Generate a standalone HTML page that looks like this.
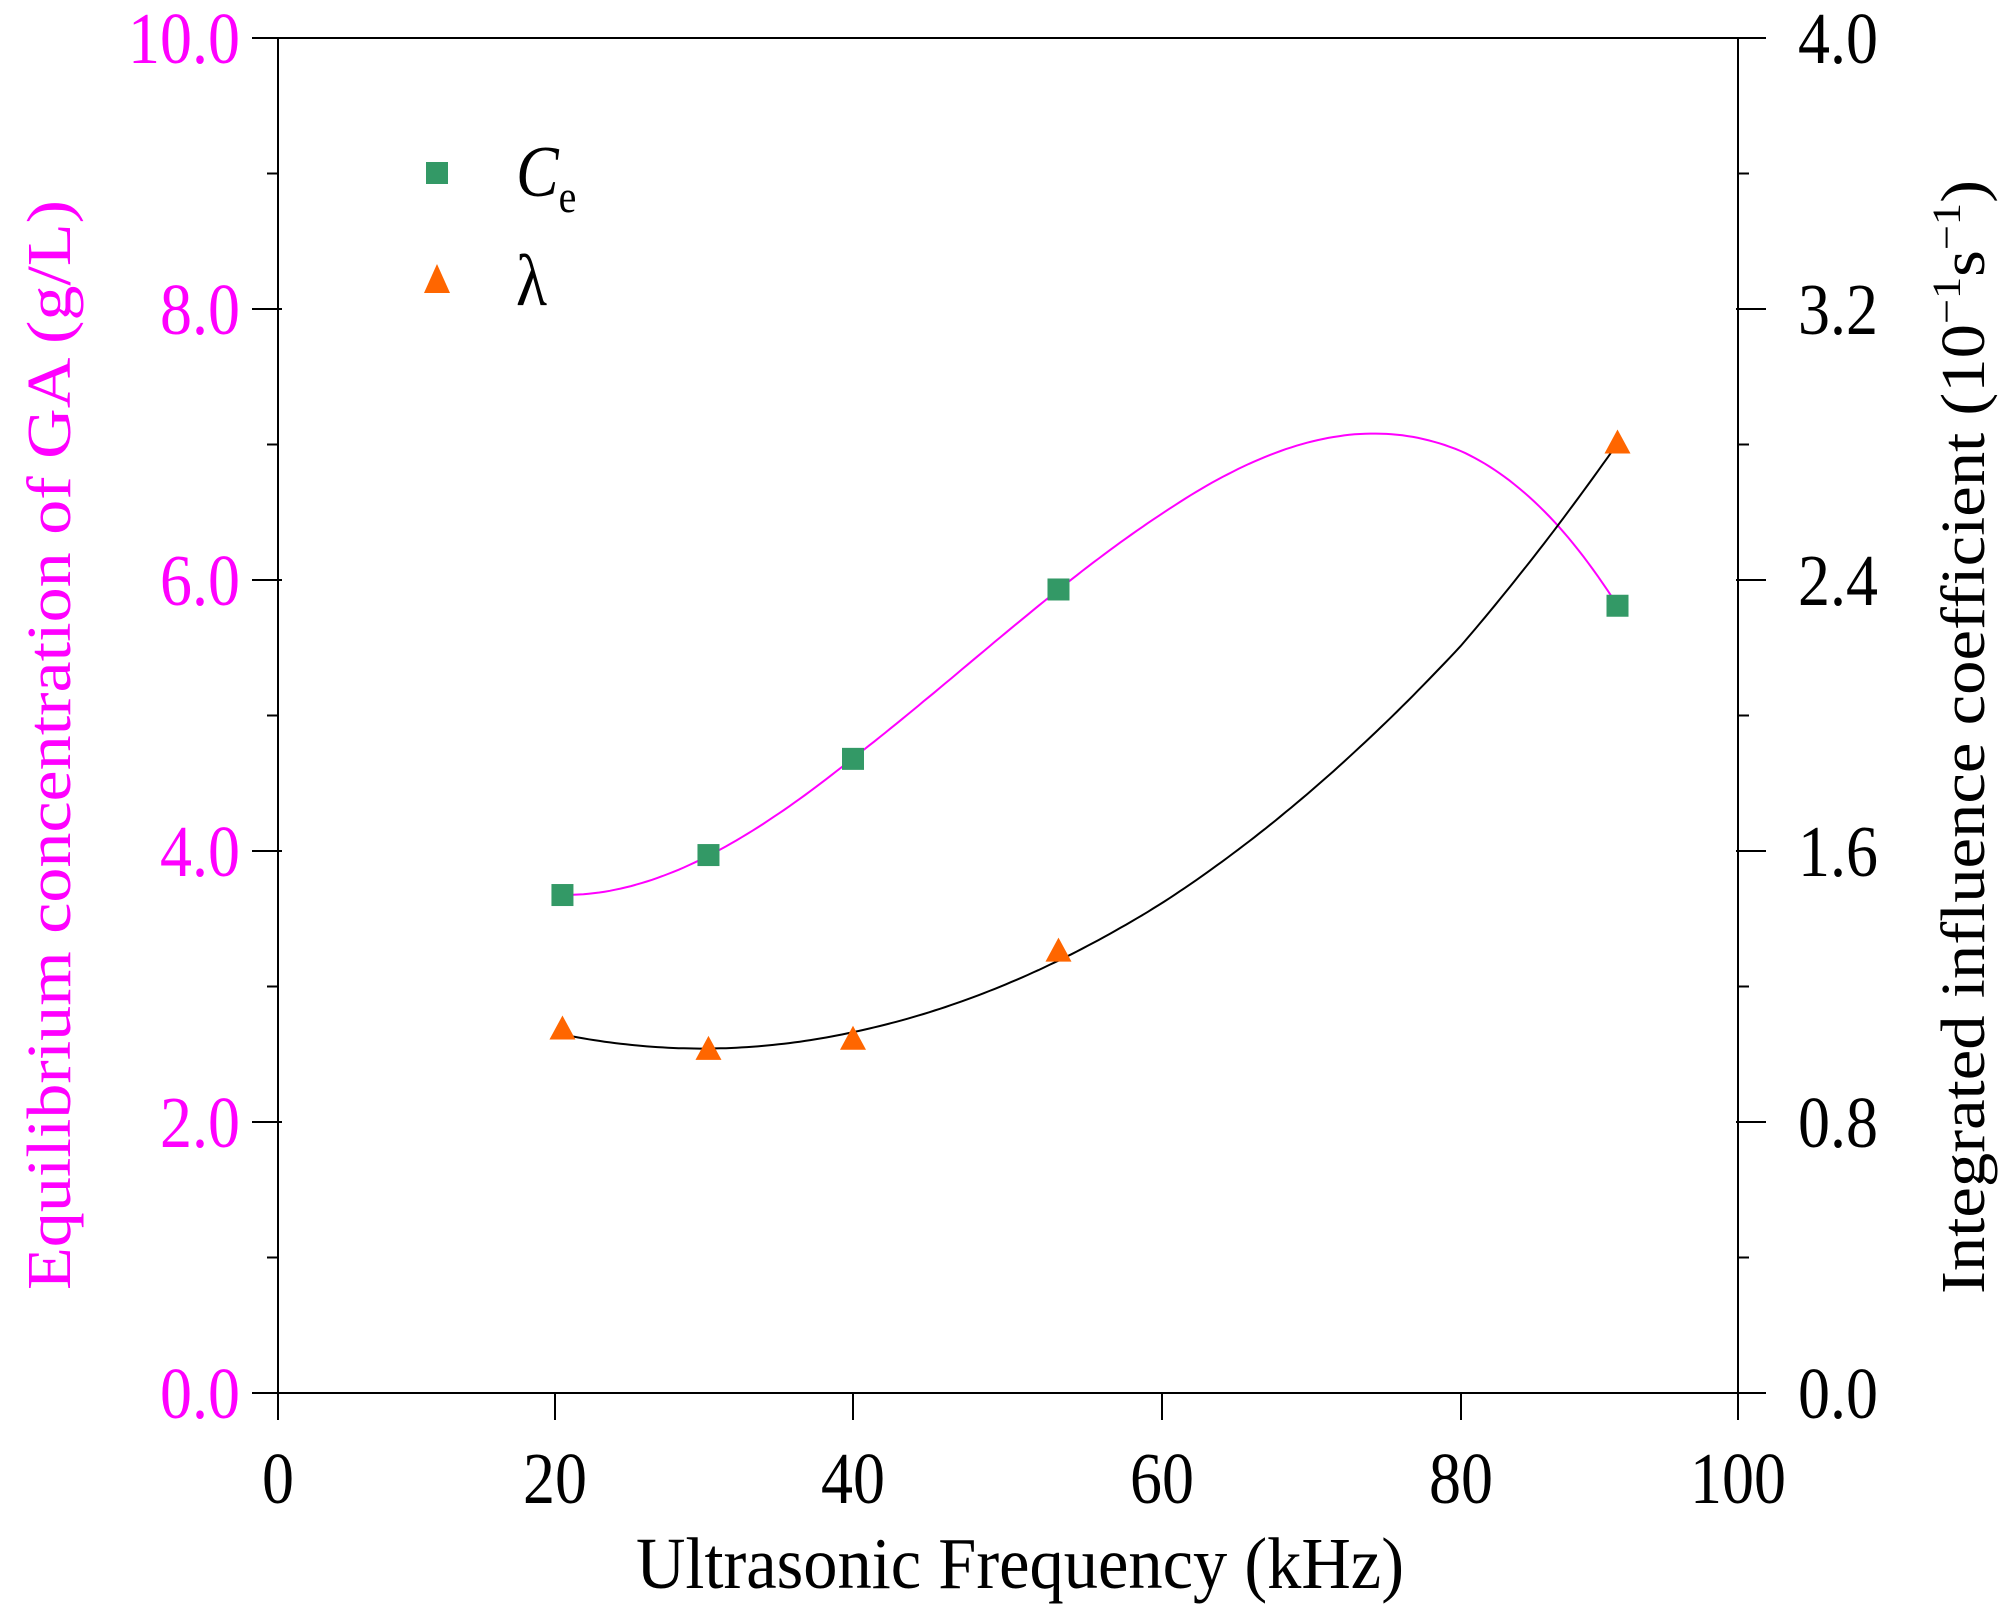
<!DOCTYPE html>
<html><head><meta charset="utf-8"><style>
html,body{margin:0;padding:0;background:#fff;}
svg{display:block;}
text{font-family:"Liberation Serif",serif;}
</style></head><body>
<svg id="chart" width="2012" height="1611" viewBox="0 0 2012 1611" xmlns="http://www.w3.org/2000/svg">
<g id="axes"></g>
<g id="curves"></g>
<g id="marks"></g>
<g id="legend">
  <rect x="426" y="162" width="22" height="22" fill="#339966"/>
  <text x="516" y="196" font-size="64" font-style="italic" transform="translate(516,196) scale(1,1.15) translate(-516,-196)">C<tspan font-size="40" font-style="normal" dy="14">e</tspan></text>
  <polygon points="437,264 424,293 450,293" fill="#ff6600"/>
  <text x="516" y="305" font-size="64" transform="translate(516,305) scale(1,1.15) translate(-516,-305)">λ</text>
</g>
<text x="1020" y="1588" font-size="64" text-anchor="middle" textLength="768" lengthAdjust="spacingAndGlyphs" transform="translate(1020,1588) scale(1,1.15) translate(-1020,-1588)">Ultrasonic Frequency (kHz)</text>
<text x="0" y="0" font-size="62" fill="#ff00ff" text-anchor="middle" textLength="1090" lengthAdjust="spacingAndGlyphs" transform="translate(70,745) rotate(-90)">Equilibrium concentration of  GA (g/L)</text>
<text x="0" y="0" font-size="62" text-anchor="middle" textLength="1114" lengthAdjust="spacingAndGlyphs" transform="translate(1984,737) rotate(-90)">Integrated influence coefficient (10<tspan font-size="40" dy="-24">−1</tspan><tspan dy="24">s</tspan><tspan font-size="40" dy="-24">−1</tspan><tspan dy="24">)</tspan></text>
</svg>
<script>
const xTicks=[0,20,40,60,80,100];
const xTickLabels=["0","20","40","60","80","100"];
const leftTicks=[0,2,4,6,8,10];
const leftTickLabels=["0.0","2.0","4.0","6.0","8.0","10.0"];
const rightTicks=[0,0.8,1.6,2.4,3.2,4.0];
const rightTickLabels=["0.0","0.8","1.6","2.4","3.2","4.0"];
const freq=[20.5,30.3,40,53.3,91.3];
const ceValues=[3.675,3.97,4.68,5.93,5.81];
const lambdaValues=[1.07,1.01,1.04,1.30,2.80];

const NS="http://www.w3.org/2000/svg";
const xPix=[278,555,853,1162,1461,1738];
function xs(v){let i=Math.min(4,Math.max(0,Math.floor(v/20)));return xPix[i]+(v-i*20)/20*(xPix[i+1]-xPix[i]);}
const Y0=1393,Y1=38;
function yl(v){return Y0-(v/10)*(Y0-Y1);}
function yr(v){return Y0-(v/4)*(Y0-Y1);}
function mk(tag,attrs,parent){const e=document.createElementNS(NS,tag);for(const k in attrs)e.setAttribute(k,attrs[k]);parent.appendChild(e);return e;}
const axes=document.getElementById('axes');
let e;
e=mk('rect',{x:278,y:Y1,width:1738-278,height:Y0-Y1,fill:'none',stroke:'#000','stroke-width':2},axes);


function tlabel(x,y,s,anchor,fill,name){const t=mk('text',{x:x,y:y,'font-size':64,'text-anchor':anchor,fill:fill,transform:`translate(${x},${y}) scale(1,1.15) translate(${-x},${-y})`},axes);t.textContent=s;return t;}
xTicks.forEach((v,i)=>{const x=xs(v);
 e=mk('line',{x1:x,y1:Y0,x2:x,y2:Y0+27,stroke:'#000','stroke-width':2},axes);
 
 
 e=tlabel(x,1503,xTickLabels[i],'middle','#000');
 
 
});
leftTicks.forEach((v,i)=>{const y=yl(v);
 e=mk('line',{x1:252,y1:y,x2:282,y2:y,stroke:'#000','stroke-width':2},axes);
 
 
 e=tlabel(240,y+25,leftTickLabels[i],'end','#ff00ff');
 
 
 if(i<leftTicks.length-1){const ym=yl(v+1);
  e=mk('line',{x1:267,y1:ym,x2:278,y2:ym,stroke:'#000','stroke-width':2},axes);
  
  }
});
rightTicks.forEach((v,i)=>{const y=yr(v);
 e=mk('line',{x1:1736,y1:y,x2:1766,y2:y,stroke:'#000','stroke-width':2},axes);
 
 
 e=tlabel(1798,y+25,rightTickLabels[i],'start','#000');
 
 
 if(i<rightTicks.length-1){const ym=yr(v+0.4);
  e=mk('line',{x1:1738,y1:ym,x2:1749,y2:ym,stroke:'#000','stroke-width':2},axes);
  
  }
});
function polyfit(xv,yv,deg){const n=deg+1;const A=[];for(let r=0;r<n;r++){A.push(new Array(n+1).fill(0));}
 for(let k=0;k<xv.length;k++){for(let r=0;r<n;r++){for(let c=0;c<n;c++)A[r][c]+=Math.pow(xv[k],r+c);A[r][n]+=yv[k]*Math.pow(xv[k],r);}}
 for(let i=0;i<n;i++){let p=i;for(let j=i+1;j<n;j++)if(Math.abs(A[j][i])>Math.abs(A[p][i]))p=j;[A[i],A[p]]=[A[p],A[i]];
  for(let j=0;j<n;j++)if(j!==i){const f=A[j][i]/A[i][i];for(let c=i;c<=n;c++)A[j][c]-=f*A[i][c];}}
 return A.map((r,i)=>r[n]/r[i]);}
function pv(c,x){return c.reduce((s,a,i)=>s+a*Math.pow(x,i),0);}
const curves=document.getElementById('curves');
function curve(vals,deg,ys,color,name){const c=polyfit(freq,vals,deg);let d='';const a=freq[0],b=freq[freq.length-1];
 for(let k=0;k<=200;k++){const x=a+(b-a)*k/200;d+=(k?'L':'M')+xs(x).toFixed(1)+','+ys(pv(c,x)).toFixed(1);}
 const p=mk('path',{d:d,fill:'none',stroke:color,'stroke-width':2},curves);
 
 }
curve(ceValues,3,yl,'#ff00ff','ce-fit-curve');
curve(lambdaValues,2,yr,'#000','lambda-fit-curve');
const marks=document.getElementById('marks');
freq.forEach((f,i)=>{const x=xs(f);
 let r=mk('rect',{x:x-11,y:yl(ceValues[i])-11,width:22,height:22,fill:'#339966'},marks);
 
 
 const y=yr(lambdaValues[i]);
 let t=mk('polygon',{points:`${x},${y-15} ${x-13},${y+9} ${x+13},${y+9}`,fill:'#ff6600'},marks);
 
 
});
</script>
</body></html>
